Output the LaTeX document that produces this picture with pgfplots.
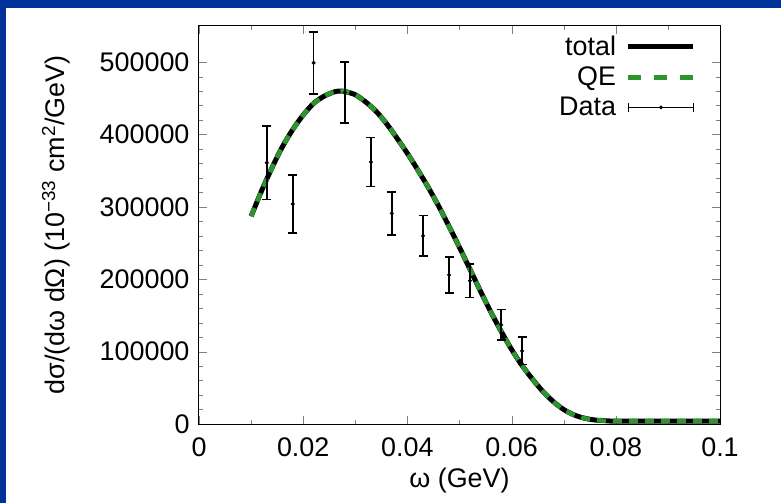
\documentclass[border=0pt]{standalone}
\usepackage{pgfplots}
\pgfplotsset{compat=1.18}
\usepackage{fontspec}
\setmainfont{Liberation Sans}
\definecolor{slideblue}{RGB}{0,51,153}
\definecolor{qegreen}{RGB}{44,150,44}

\pgfplotstableread{
x y
0.0100 287000
0.0120 322000
0.0140 354000
0.0160 383000
0.0180 407000
0.0200 427000
0.0220 443000
0.0240 453000
0.0260 459000
0.0270 460000
0.0280 459500
0.0300 455000
0.0320 445000
0.0340 432000
0.0360 415000
0.0380 395000
0.0400 374000
0.0420 351000
0.0440 327000
0.0460 301000
0.0480 273000
0.0500 244000
0.0520 214000
0.0540 184000
0.0560 155000
0.0580 128000
0.0600 103000
0.0620 81000
0.0640 62000
0.0660 45000
0.0680 31000
0.0700 20000
0.0720 12500
0.0740 8000
0.0760 5500
0.0780 4500
0.0800 4000
0.0900 4000
0.1000 4000
}\curvetable

\pgfplotstableread{
x y e
0.013 361000 51000
0.018 304000 40000
0.022 499000 43000
0.028 458000 42000
0.033 362000 34000
0.037 291000 30000
0.043 260000 28000
0.048 206000 25000
0.052 198000 23000
0.058 137000 21000
0.062 101000 19000
}\datatable

\begin{document}
\begin{tikzpicture}
\path[use as bounding box] (-199bp,-79bp) rectangle (582bp,424bp);
\fill[slideblue] (-199bp,-79bp) rectangle (582bp,424bp);
\fill[white] (-193bp,-79bp) rectangle (582bp,416bp);
\begin{axis}[
  at={(0,0)}, anchor=south west,
  scale only axis, width=521bp, height=398bp,
  xmin=0, xmax=0.1, ymin=0, ymax=550000,
  xtick={0,0.02,...,0.1}, minor x tick num=1,
  ytick={0,100000,...,500000}, minor y tick num=4,
  tick align=inside, major tick length=8bp, minor tick length=4bp,
  xtick pos=both, ytick pos=both,
  scaled x ticks=false, scaled y ticks=false,
  /pgf/number format/assume math mode=true,
  xticklabel style={/pgf/number format/fixed, /pgf/number format/precision=2, yshift=-10bp},
  yticklabel style={/pgf/number format/fixed, /pgf/number format/1000 sep={}, xshift=-6bp},
  tick label style={font=\fontsize{27}{31}\selectfont},
  label style={font=\fontsize{27}{31}\selectfont},
  xlabel={ω (GeV)},
  xlabel style={at={(axis description cs:0.5,-0.142)}, anchor=center},
  ylabel={dσ/(dω dΩ) (10\textsuperscript{−33} cm\textsuperscript{2}/GeV)},
  ylabel style={at={(axis description cs:-0.275,0.5)}, anchor=center},
  axis line style={line width=1bp},
  legend style={draw=none, fill=none, at={(axis description cs:0.96,0.985)}, anchor=north east,
    font=\fontsize{27}{31}\selectfont, row sep=6bp, column sep=8bp},
  legend cell align=right,
  legend plot pos=right,
]
\addplot[black, line width=5bp, smooth,
  legend image code/.code={\draw[black, line width=5bp] (0bp,0bp)--(65bp,0bp);}]
  table[x=x, y=y] {\curvetable};
\addlegendentry{total}
\addplot[qegreen, line width=4.5bp, smooth, dash pattern=on 9bp off 7bp,
  legend image code/.code={\draw[qegreen, line width=4.5bp, dash pattern=on 13bp off 13bp] (0bp,0bp)--(65bp,0bp);}]
  table[x=x, y=y] {\curvetable};
\addlegendentry{QE}
\addplot[black, only marks, mark=*, mark size=1.8bp,
  error bars/.cd, y dir=both, y explicit,
  error bar style={line width=1.6bp},
  error mark options={rotate=90, mark size=4.5bp, line width=1.6bp},
  /pgfplots/legend image code/.code={
    \draw[black, line width=1.6bp] (0bp,0bp)--(65bp,0bp);
    \draw[black, line width=1.6bp] (0bp,-4.5bp)--(0bp,4.5bp);
    \draw[black, line width=1.6bp] (65bp,-4.5bp)--(65bp,4.5bp);
    \fill[black] (32.5bp,0bp) circle (1.8bp);}]
  table[x=x, y=y, y error=e] {\datatable};
\addlegendentry{Data}
\end{axis}
\end{tikzpicture}
\end{document}
